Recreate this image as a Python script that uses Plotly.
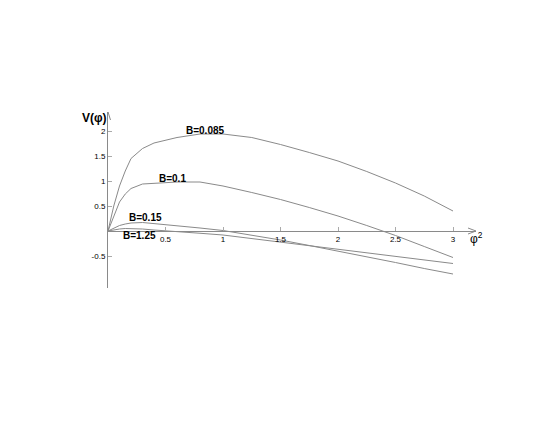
import plotly.graph_objects as go

phi2 = [0, 0.05, 0.1, 0.15, 0.2, 0.3, 0.4, 0.5, 0.6, 0.8, 1.0, 1.25, 1.5, 1.75, 2.0, 2.25, 2.5, 2.75, 3.0]
v_b0085 = [0, 0.5, 0.9, 1.2, 1.45, 1.65, 1.76, 1.81, 1.87, 1.94, 1.94, 1.87, 1.73, 1.57, 1.40, 1.19, 0.96, 0.70, 0.40]
v_b01 = [0, 0.3, 0.58, 0.74, 0.85, 0.94, 0.95, 0.96, 0.98, 0.98, 0.90, 0.77, 0.63, 0.47, 0.30, 0.11, -0.09, -0.31, -0.53]
v_b015 = [0, 0.06, 0.11, 0.14, 0.16, 0.17, 0.15, 0.12, 0.10, 0.06, 0.01, -0.08, -0.18, -0.29, -0.40, -0.51, -0.63, -0.75, -0.86]
v_b125 = [0, 0.025, 0.04, 0.05, 0.05, 0.04, 0.02, 0.0, -0.015, -0.045, -0.08, -0.15, -0.23, -0.30, -0.37, -0.44, -0.51, -0.58, -0.65]

series = [("B=0.085", v_b0085), ("B=0.1", v_b01), ("B=0.15", v_b015), ("B=1.25", v_b125)]
label_pos = {"B=0.085": (0.85, 2.02), "B=0.1": (0.56, 1.06), "B=0.15": (0.33, 0.28), "B=1.25": (0.27, -0.08)}

x_ticks = [0.5, 1, 1.5, 2, 2.5, 3]
y_ticks = [-0.5, 0.5, 1, 1.5, 2]

XR = [0, 3.2]
YR = [-1.14, 2.38]
AX = "#8a8a8a"

fig = go.Figure()
for name, vals in series:
    fig.add_trace(go.Scatter(x=phi2, y=vals, mode="lines", line=dict(color=AX, width=1),
                             name=name, showlegend=False, hoverinfo="skip"))

for name, (lx, ly) in label_pos.items():
    fig.add_annotation(x=lx, y=ly, text="<b>%s</b>" % name, showarrow=False,
                       font=dict(size=10, color="black", family="Liberation Sans"))

# axis titles (paper coords so they are not hidden outside the range)
fig.add_annotation(xref="paper", yref="paper", x=-0.12 / (XR[1] - XR[0]),
                   y=(2.26 - YR[0]) / (YR[1] - YR[0]), xanchor="center", yanchor="middle",
                   text="<b>V(φ)</b>", showarrow=False,
                   font=dict(size=12, color="black", family="Liberation Sans"))
fig.add_annotation(xref="paper", yref="paper", x=3.2 / (XR[1] - XR[0]),
                   y=(-0.13 - YR[0]) / (YR[1] - YR[0]), xanchor="center", yanchor="middle",
                   text="φ<sup>2</sup>", showarrow=False,
                   font=dict(size=12, color="black", family="Liberation Sans"))

# arrowheads at axis ends (pixel-sized paths)
fig.add_shape(type="path", xref="x", yref="y", xsizemode="pixel", ysizemode="pixel",
              xanchor=XR[1], yanchor=0, path="M -8 3 L 0 0 L -8 -3",
              line=dict(color=AX, width=1))
fig.add_shape(type="path", xref="x", yref="y", xsizemode="pixel", ysizemode="pixel",
              xanchor=0, yanchor=YR[1], path="M -2.5 -8 L 0 0 L 2.5 -8",
              line=dict(color=AX, width=1))

x_pos = (0 - YR[0]) / (YR[1] - YR[0])

fig.update_layout(
    width=545, height=436,
    margin=dict(l=100, r=77, t=104, b=156),
    paper_bgcolor="white", plot_bgcolor="white",
    font=dict(family="Liberation Sans", size=8, color="black"),
    xaxis=dict(range=XR, anchor="free", position=x_pos, showgrid=False, zeroline=False,
               showline=True, linecolor=AX, linewidth=1,
               ticks="inside", ticklen=4, tickcolor="#aaaaaa", tickvals=x_ticks,
               ticktext=[str(t) for t in x_ticks], tickfont=dict(size=8)),
    yaxis=dict(range=YR, showgrid=False, zeroline=False,
               showline=True, linecolor=AX, linewidth=1,
               ticks="inside", ticklen=4, tickcolor="#aaaaaa", tickvals=y_ticks,
               ticktext=[str(t) for t in y_ticks], tickfont=dict(size=8)),
)

fig.write_html("out.html")
